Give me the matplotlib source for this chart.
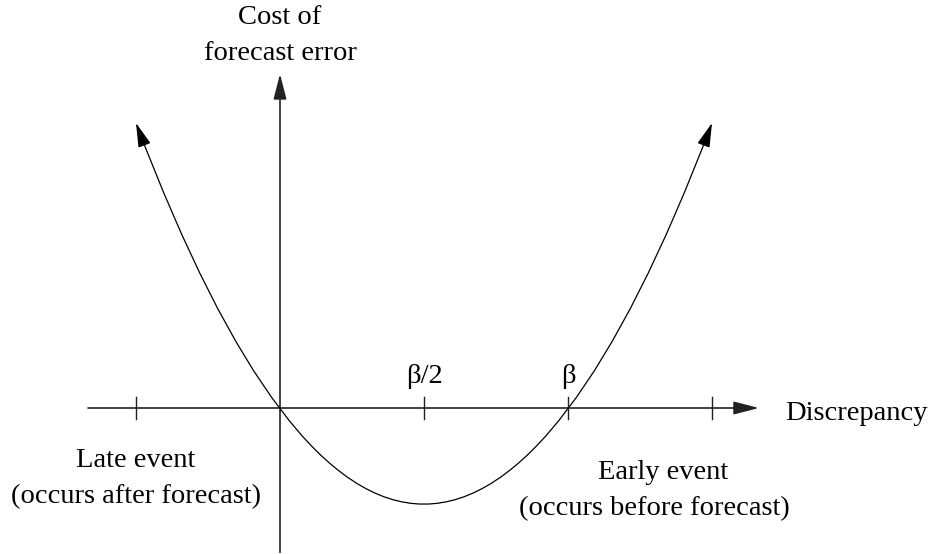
import matplotlib
matplotlib.use("Agg")
import matplotlib.pyplot as plt
from matplotlib.patches import FancyArrowPatch, ArrowStyle
from matplotlib.path import Path

plt.rcParams['font.family'] = ['Liberation Serif', 'DejaVu Serif']

# ---- data (x in units of beta/2, y = cost in arbitrary units) ----
curve_x = [-1.0, 1.0, 3.0]      # quadratic Bezier: start, control, end
curve_y = [3.0, -5.0, 3.0]      # cost curve passes 0 at x=0 and x=beta, min -1 at beta/2
tick_x = [-1, 1, 2, 3]
tick_labels = ['', 'β/2', 'β', '']
xaxis_range = [-1.333, 3.326]
yaxis_range = [-1.52, 3.516]

FS = 20.5
fig = plt.figure(figsize=(9.30, 5.54), dpi=100)
ax = fig.add_axes([0, 0, 1, 1])
ax.set_xlim(-280 / 144, (930 - 280) / 144)
ax.set_ylim((408 - 554) / 95, 408 / 95)
ax.axis('off')

axis_style = ArrowStyle('-|>', head_length=15.5, head_width=4)
# x axis
ax.add_patch(FancyArrowPatch((xaxis_range[0], 0), (xaxis_range[1], 0),
                             arrowstyle=axis_style, mutation_scale=1,
                             shrinkA=0, shrinkB=0, lw=1.2, color='#222222'))
# y axis
ax.add_patch(FancyArrowPatch((0, yaxis_range[0]), (0, yaxis_range[1]),
                             arrowstyle=axis_style, mutation_scale=1,
                             shrinkA=0, shrinkB=0, lw=1.2, color='#222222'))
# ticks
for tx, lab in zip(tick_x, tick_labels):
    ax.plot([tx, tx], [-0.116, 0.116], color='#222222', lw=1.0)
    if lab:
        ax.text(tx, 0.263, lab, ha='center', va='baseline', fontsize=FS)

# cost curve
path = Path(list(zip(curve_x, curve_y)), [Path.MOVETO, Path.CURVE3, Path.CURVE3])
ax.add_patch(FancyArrowPatch(path=path,
                             arrowstyle=ArrowStyle('<|-|>', head_length=15, head_width=4),
                             mutation_scale=1, lw=0.9, color='black'))

# labels
ax.text(0, 4.042, 'Cost of', ha='center', va='baseline', fontsize=FS)
ax.text(0, 3.663, 'forecast error', ha='center', va='baseline', fontsize=FS)
ax.text(3.507, -0.126, 'Discrepancy', ha='left', va='baseline', fontsize=FS)
ax.text(-1.0, -0.621, 'Late event', ha='center', va='baseline', fontsize=FS)
ax.text(-0.997, -1.0, '(occurs after forecast)', ha='center', va='baseline', fontsize=FS)
ax.text(2.66, -0.747, 'Early event', ha='center', va='baseline', fontsize=FS)
ax.text(2.597, -1.126, '(occurs before forecast)', ha='center', va='baseline', fontsize=FS)

fig.savefig('out.png', dpi=100)
